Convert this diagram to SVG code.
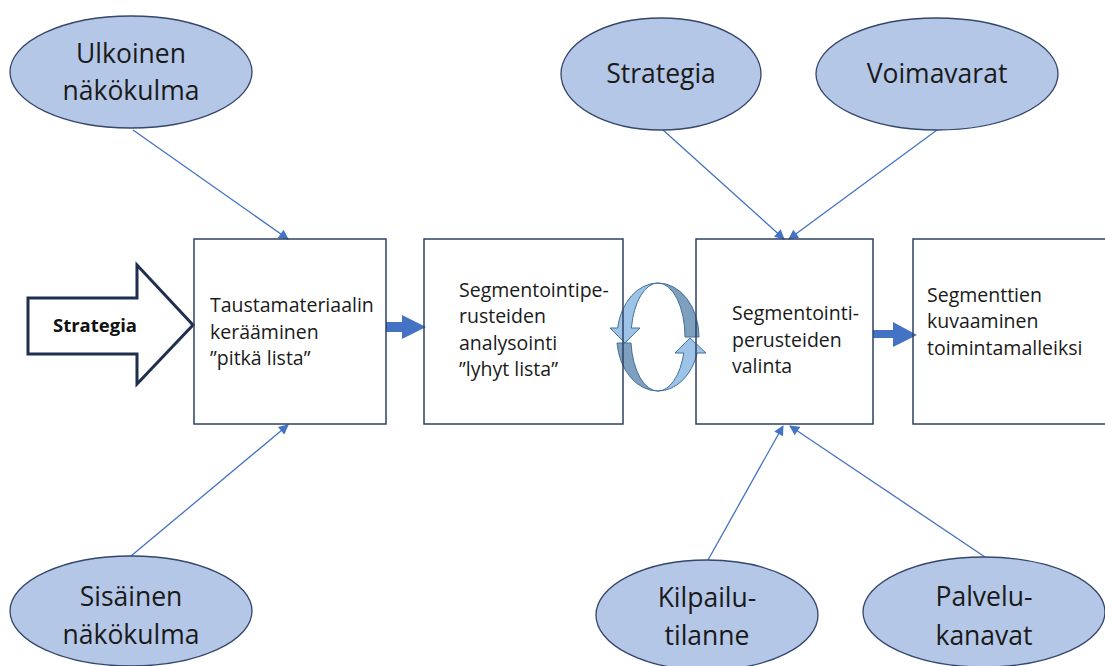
<svg xmlns="http://www.w3.org/2000/svg" width="1105" height="666" viewBox="0 0 1105 666">
<style>
.ell{fill:#b4c7e7;stroke:#34466b;stroke-width:1.3}
.box{fill:none;stroke:#2e4063;stroke-width:1.5}
.et{font-family:"Open Sans","Liberation Sans",sans-serif;font-size:26.5px;fill:#1a1a1a;text-anchor:middle}
.bt{font-family:"Open Sans","Liberation Sans",sans-serif;font-size:19.5px;fill:#1a1a1a}
.con{stroke:#4472c4;stroke-width:1.3;fill:none;marker-end:url(#ah)}
.blk{fill:#4472c4}
.lt{fill:#9dc3e6;stroke:#41719c;stroke-width:1}
.dk{fill:#7f9fbf;stroke:#41719c;stroke-width:1}
</style>
<defs>
<marker id="ah" viewBox="0 0 10 10" refX="9" refY="5" markerWidth="11" markerHeight="10" markerUnits="userSpaceOnUse" orient="auto">
<path d="M0,0 L10,5 L0,10 Z" fill="#4472c4"/>
</marker>
</defs>
<rect width="1105" height="666" fill="#ffffff"/>

<g id="connectors">
<line class="con" x1="133" y1="130" x2="288" y2="239"/>
<line class="con" x1="131" y1="556" x2="288" y2="425"/>
<line class="con" x1="663" y1="130" x2="784" y2="239"/>
<line class="con" x1="937" y1="130" x2="789" y2="239"/>
<line class="con" x1="708" y1="560" x2="783" y2="426"/>
<line class="con" x1="985" y1="557" x2="790" y2="426"/>
<path class="blk" d="M386,322 L402,322 L402,315 L426,327 L402,339 L402,332 L386,332 Z"/>
<path class="blk" d="M873,330 L893,330 L893,322 L917,335 L893,347 L893,338 L873,338 Z"/>
</g>

<g id="cycle">
<path class="dk" d="M699,337 A41,54 0 0 0 658,283 A27,54 0 0 1 685,337 Z"/>
<path class="lt" d="M658,283 A41,54 0 0 0 617.6,328 L610,328 L625,343 L640,328 L631.4,328 A27,54 0 0 1 658,283 Z"/>
<path class="dk" d="M617,343 A41,54 0 0 0 658,391 A27,54 0 0 1 631,343 Z"/>
<path class="lt" d="M658,391 A41,54 0 0 0 697.2,353 L706,353 L690,338 L675,353 L683.8,353 A27,54 0 0 1 658,391 Z"/>
</g>

<g id="strategia-arrow">
<path d="M28,298 L137,298 L137,265 L193,325 L137,384 L137,354 L28,354 Z" fill="#ffffff" stroke="#1f2f4f" stroke-width="3" stroke-linejoin="miter"/>
<text x="95" y="332" text-anchor="middle" font-family="'Open Sans','Liberation Sans',sans-serif" font-size="18.5" font-weight="bold" fill="#111111">Strategia</text>
</g>

<g id="box1">
<rect class="box" x="194" y="239" width="192" height="185"/>
<text class="bt" x="210" y="312">Taustamateriaalin</text>
<text class="bt" x="210" y="339">kerääminen</text>
<text class="bt" x="210" y="365">”pitkä lista”</text>
</g>
<g id="box2">
<rect class="box" x="424" y="239" width="199" height="185"/>
<text class="bt" x="459" y="297">Segmentointipe-</text>
<text class="bt" x="459" y="323">rusteiden</text>
<text class="bt" x="459" y="350">analysointi</text>
<text class="bt" x="459" y="376">”lyhyt lista”</text>
</g>
<g id="box3">
<rect class="box" x="696" y="239" width="177" height="185"/>
<text class="bt" x="732" y="320">Segmentointi-</text>
<text class="bt" x="732" y="347">perusteiden</text>
<text class="bt" x="732" y="373">valinta</text>
</g>
<g id="box4">
<rect class="box" x="913" y="239" width="210" height="185"/>
<text class="bt" x="927" y="302">Segmenttien</text>
<text class="bt" x="927" y="328">kuvaaminen</text>
<text class="bt" x="927" y="355">toimintamalleiksi</text>
</g>

<g id="ulkoinen">
<ellipse class="ell" cx="131" cy="72" rx="121" ry="56"/>
<text class="et" x="131" y="63">Ulkoinen</text>
<text class="et" x="131" y="100">näkökulma</text>
</g>
<g id="strategia">
<ellipse class="ell" cx="661" cy="74" rx="100" ry="56"/>
<text class="et" x="661" y="83">Strategia</text>
</g>
<g id="voimavarat">
<ellipse class="ell" cx="937" cy="74" rx="121" ry="56"/>
<text class="et" x="937" y="83">Voimavarat</text>
</g>
<g id="sisainen">
<ellipse class="ell" cx="131" cy="611" rx="121" ry="55"/>
<text class="et" x="131" y="606">Sisäinen</text>
<text class="et" x="131" y="644">näkökulma</text>
</g>
<g id="kilpailu">
<ellipse class="ell" cx="707" cy="615" rx="111" ry="55"/>
<text class="et" x="707" y="607">Kilpailu-</text>
<text class="et" x="707" y="645">tilanne</text>
</g>
<g id="palvelu">
<ellipse class="ell" cx="984" cy="612" rx="121" ry="55"/>
<text class="et" x="984" y="606">Palvelu-</text>
<text class="et" x="984" y="645">kanavat</text>
</g>
</svg>
